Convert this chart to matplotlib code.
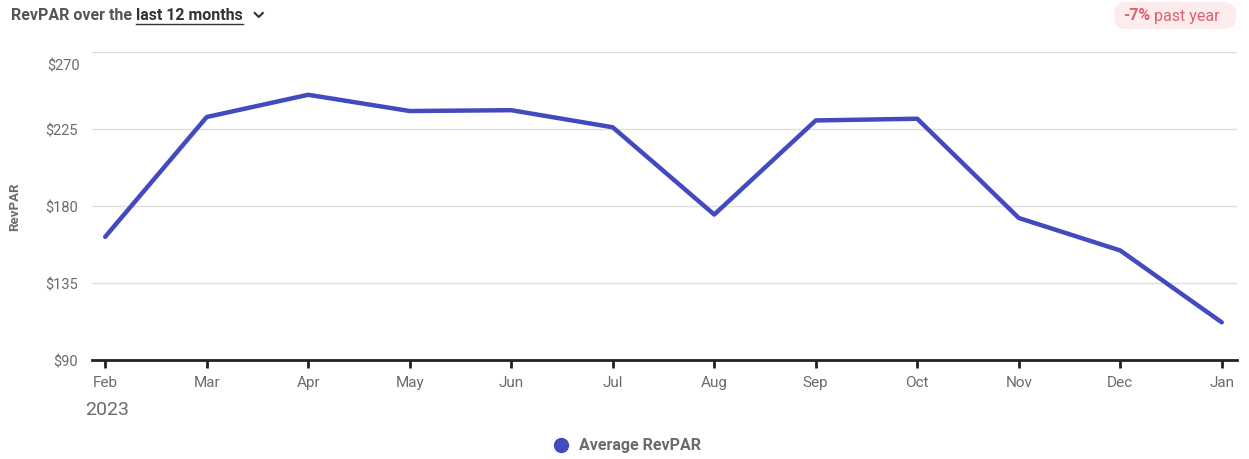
import matplotlib
matplotlib.use('Agg')
import matplotlib.pyplot as plt
from matplotlib.ticker import FuncFormatter
from matplotlib.patches import FancyBboxPatch

# data
months = ['Feb', 'Mar', 'Apr', 'May', 'Jun', 'Jul', 'Aug', 'Sep', 'Oct', 'Nov', 'Dec', 'Jan']
revpar = [162, 232, 245, 235.5, 236, 226, 175, 230, 231, 173, 154, 112]
yticks = [90, 135, 180, 225, 270]

LINE = '#4349be'
GREY = '#6b6b6b'
RED = '#e0606a'

plt.rcParams['font.family'] = ['Roboto', 'DejaVu Sans']

W, H = 1249, 460
fig = plt.figure(figsize=(W / 100, H / 100), dpi=100)
ax = fig.add_axes([92 / W, 1 - 361 / H, (1237 - 92) / W, (361 - 53) / H])

x = list(range(len(months)))
ax.plot(x, revpar, color=LINE, linewidth=3.2, solid_joinstyle='round', solid_capstyle='round', zorder=3)

ax.set_xlim(-0.13, len(months) - 1 + 0.15)
ax.set_ylim(min(yticks), max(yticks))
ax.set_yticks(yticks)
# top label is drawn by hand, a bit below its gridline as in the reference
ax.yaxis.set_major_formatter(FuncFormatter(lambda v, p: '' if v == max(yticks) else '${:d}'.format(int(v))))
ax.annotate('${:d}'.format(max(yticks)), xy=(0, max(yticks)), xycoords=('axes fraction', 'data'),
			xytext=(-12, -14), textcoords='offset pixels', ha='right', va='center',
			fontsize=10.5, color=GREY)
ax.set_xticks(x)
ax.set_xticklabels(months)

for s in ['top', 'right', 'left']:
	ax.spines[s].set_visible(False)
ax.spines['bottom'].set_linewidth(2)
ax.spines['bottom'].set_color('#222222')
ax.grid(axis='y', color='#dedede', linewidth=1)
ax.set_axisbelow(True)
ax.tick_params(axis='y', length=0, pad=10, labelsize=10.5, labelcolor=GREY)
ax.tick_params(axis='x', length=6, width=2, color='#222222', pad=5, labelsize=11, labelcolor=GREY)

ax.set_ylabel('RevPAR', fontsize=9.5, fontweight='bold', color=GREY)
ax.yaxis.set_label_coords(-0.062, 0.5)

fig.text(107 / W, 1 - 410 / H, '2023', fontsize=14, color=GREY, ha='center', va='center')

# header
hy = 1 - 16 / H
t1 = fig.text(11 / W, hy, 'RevPAR over the ', fontsize=11.5, fontweight='bold', color='#555555', va='center')
fig.canvas.draw()
bb = t1.get_window_extent()
t2 = fig.text(bb.x1 / W, hy, 'last 12 months', fontsize=11.5, fontweight='bold', color='#333333', va='center')
bb2 = t2.get_window_extent()
fig.add_artist(plt.Line2D([bb2.x0 / W, bb2.x1 / W], [1 - 25 / H, 1 - 25 / H], color='#333333', linewidth=1))
cx = bb2.x1 + 16
fig.add_artist(plt.Line2D([(cx - 4) / W, cx / W, (cx + 4) / W],
						  [1 - 14 / H, 1 - 18 / H, 1 - 14 / H], color='#333333', linewidth=1.5))

# change badge
fig.add_artist(FancyBboxPatch((1114 / W, 1 - 30 / H), 122 / W, 27 / H,
							  boxstyle='round,pad=0,rounding_size={}'.format(12 / W),
							  mutation_aspect=W / H, transform=fig.transFigure,
							  facecolor='#fdecee', edgecolor='none'))
b1 = fig.text(1123 / W, hy, '-7%', fontsize=11.5, fontweight='bold', color=RED, va='center')
fig.canvas.draw()
fig.text(b1.get_window_extent().x1 / W, hy, ' past year', fontsize=11.5, color=RED, va='center')

# legend
fig.add_artist(plt.Line2D([561 / W], [1 - 446 / H], marker='o', markersize=10, color=LINE, linestyle='none'))
fig.text(579 / W, 1 - 446 / H, 'Average RevPAR', fontsize=11.5, fontweight='bold', color=GREY, va='center')

fig.savefig('out.png', dpi=100)
